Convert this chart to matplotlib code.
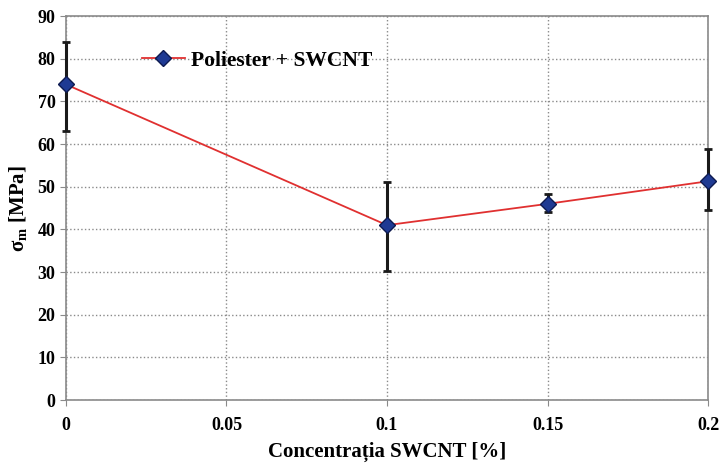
import numpy as np
import matplotlib
matplotlib.use('Agg')
import matplotlib.pyplot as plt

# data
conc = [0.0, 0.1, 0.15, 0.2]
sigma = [74.0, 41.0, 46.0, 51.3]
err_low = [11.0, 10.8, 2.0, 6.8]
err_high = [10.0, 10.1, 2.3, 7.6]

x_ticks = [0, 0.05, 0.1, 0.15, 0.2]
x_labels = ['0', '0.05', '0.1', '0.15', '0.2']

plt.rcParams['font.family'] = 'Liberation Serif'
plt.rcParams['font.weight'] = 'bold'
plt.rcParams['mathtext.default'] = 'regular'

fig = plt.figure(figsize=(7.21, 4.63), dpi=100)
ax = fig.add_axes([0.0915, 0.136, 0.8905, 0.829])

eb = ax.errorbar(conc, sigma, yerr=[err_low, err_high], fmt='none',
                 ecolor='#1a1a1a', elinewidth=2.2, capsize=3, capthick=2, zorder=3)
for art in eb.lines[1] + eb.lines[2]:
    art.set_clip_on(False)
ax.plot(conc, sigma, color='#e03030', lw=1.3, marker='D', ms=8,
        mfc='#1f3a93', mec='#0d1a50', mew=1, zorder=4, clip_on=False,
        label='Poliester + SWCNT')

ax.set_xlim(0, 0.2)
ax.set_ylim(0, 90)
ax.set_xticks(x_ticks)
ax.set_xticklabels(x_labels)
ax.set_yticks(np.arange(0, 91, 10))
ax.grid(True, ls=':', color='#8a8a8a', lw=1.0)
ax.set_axisbelow(True)

for s in ax.spines.values():
    s.set_color('#8a8a8a')
    s.set_linewidth(1.2)

ax.tick_params(axis='both', labelsize=13, color='#8a8a8a', length=4)
ax.tick_params(axis='x', pad=8)

ax.set_xlabel('Concentrația SWCNT [%]', fontsize=15, fontweight='bold', labelpad=6)
ax.set_ylabel('σ$_{m}$ [MPa]', fontsize=15, fontweight='bold', labelpad=6)

ax.legend(loc='upper left', bbox_to_anchor=(0.088, 0.96), frameon=False,
          fontsize=15.5, handlelength=2.0, handletextpad=0.3)

fig.savefig('out.png', dpi=100)
